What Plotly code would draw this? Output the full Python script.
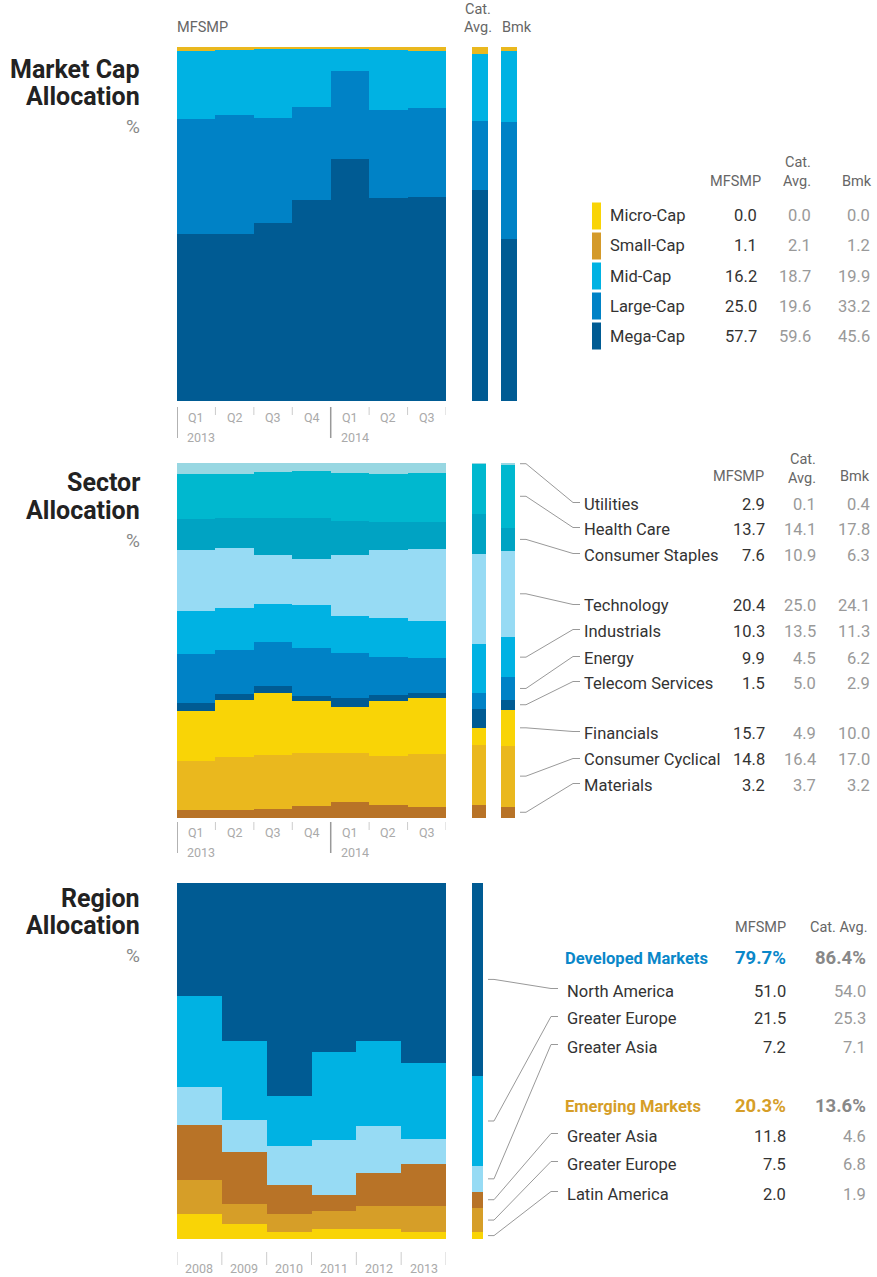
import plotly.graph_objects as go

W, H = 877, 1277
FONT = "Roboto, Noto Sans, sans-serif"


def px(x):
    return x / W


def py(y):
    return 1 - y / H


# ---------------- data ----------------
quarters = ["Q1", "Q2", "Q3", "Q4", "Q1", "Q2", "Q3"]
quarter_years = ["2013", "2014"]

# market cap, bottom to top of the stack
cap_names = ["Mega-Cap", "Large-Cap", "Mid-Cap", "Small-Cap", "Micro-Cap"]
mega_cap = [47.2, 47.2, 50.3, 56.8, 68.4, 57.3, 57.7]
large_cap = [32.5, 33.7, 29.7, 26.3, 24.9, 24.9, 25.0]
mid_cap = [19.2, 18.3, 19.4, 16.7, 6.5, 16.9, 16.2]
small_cap = [1.1, 0.8, 0.6, 0.3, 0.3, 0.8, 1.1]
micro_cap = [0.0, 0.0, 0.0, 0.0, 0.0, 0.0, 0.0]
cap_cat = [59.6, 19.6, 18.7, 2.1, 0.0]
cap_bmk = [45.6, 33.2, 19.9, 1.2, 0.0]

# sectors, bottom to top of the stack
sector_names = ["Materials", "Consumer Cyclical", "Financials", "Telecom Services", "Energy",
                "Industrials", "Technology", "Consumer Staples", "Health Care", "Utilities"]
materials = [2.2, 2.2, 2.4, 3.3, 4.4, 3.6, 3.2]
cons_cyclical = [13.8, 14.9, 15.2, 14.9, 13.8, 13.8, 14.8]
financials = [14.1, 16.1, 17.5, 14.9, 13.0, 15.5, 15.7]
telecom = [2.3, 1.7, 2.0, 1.4, 2.5, 1.7, 1.5]
energy = [13.8, 12.4, 12.4, 13.3, 12.7, 10.7, 9.9]
industrials = [12.1, 11.8, 10.7, 12.4, 10.4, 11.0, 10.3]
technology = [17.2, 16.9, 13.8, 12.7, 17.2, 19.2, 20.4]
cons_staples = [8.8, 8.6, 10.5, 11.7, 9.6, 7.9, 7.6]
health_care = [12.6, 12.3, 12.9, 13.2, 13.5, 13.5, 13.7]
utilities = [3.1, 3.1, 2.5, 2.3, 2.8, 3.1, 2.9]
sector_cat = [3.7, 16.4, 4.9, 5.0, 4.5, 13.5, 25.0, 10.9, 14.1, 0.1]
sector_bmk = [3.2, 17.0, 10.0, 2.9, 6.2, 11.3, 24.1, 6.3, 17.8, 0.4]

# regions, bottom to top of the stack
years = ["2008", "2009", "2010", "2011", "2012", "2013"]
region_names = ["Latin America", "Greater Europe", "Greater Asia",
                "Greater Asia", "Greater Europe", "North America"]
latin_america = [7.0, 4.2, 2.0, 2.8, 2.8, 2.0]
em_europe = [9.6, 5.6, 5.1, 5.1, 6.5, 7.5]
em_asia = [15.5, 14.6, 8.2, 4.5, 9.3, 11.8]
dev_asia = [10.7, 9.0, 11.0, 15.5, 13.2, 7.2]
dev_europe = [25.4, 22.1, 14.1, 24.8, 23.7, 21.5]
north_america = [31.8, 44.4, 60.0, 47.6, 44.4, 51.0]
region_cat = [1.9, 6.8, 4.6, 7.1, 25.3, 54.0]
developed_total = [79.7, 86.4]
emerging_total = [20.3, 13.6]

# ---------------- colours ----------------
DARK = "#005B93"
BLUE = "#0082C6"
CYAN = "#00B2E3"
LIGHT = "#97DBF4"
YELLOW = "#F9D406"
GOLD = "#EAB81E"
OCHRE = "#D69E28"
BROWN = "#B87327"

cap_colors = [DARK, BLUE, CYAN, GOLD, YELLOW]
cap_swatch = [DARK, BLUE, CYAN, "#D49A2A", YELLOW]
sector_colors = [BROWN, GOLD, YELLOW, DARK, BLUE, CYAN, LIGHT, "#00A3C3", "#00B8CF", "#98D7E2"]
region_colors = [YELLOW, OCHRE, BROWN, LIGHT, CYAN, DARK]

fig = go.Figure()

# axes: (x0, x1, ytop, ybottom, n bars) in pixels
axes = {
    1: (177, 446, 47, 401, 7), 2: (472, 488, 47, 401, 1), 3: (501, 517, 47, 401, 1),
    4: (177, 446, 463, 818, 7), 5: (472, 486, 463, 818, 1), 6: (501, 515, 463, 818, 1),
    7: (177, 446, 883, 1239, 6), 8: (472, 483, 883, 1239, 1),
}
for i, (x0, x1, yt, yb, n) in axes.items():
    s = "" if i == 1 else str(i)
    fig.layout["xaxis" + s] = dict(domain=[px(x0), px(x1)], range=[-0.5, n - 0.5],
                                   visible=False, anchor="y" + s, fixedrange=True)
    fig.layout["yaxis" + s] = dict(domain=[py(yb), py(yt)], range=[0, 100],
                                   visible=False, anchor="x" + s, fixedrange=True)


def add_bar(vals, color, name, ax):
    s = "" if ax == 1 else str(ax)
    fig.add_trace(go.Bar(x=list(range(len(vals))), y=vals, name=name, width=1,
                         marker=dict(color=color, line=dict(width=0)),
                         xaxis="x" + s, yaxis="y" + s, showlegend=False))


cap_series = [mega_cap, large_cap, mid_cap, small_cap, micro_cap]
for k, vals in enumerate(cap_series):
    add_bar(vals, cap_colors[k], cap_names[k], 1)
    add_bar([cap_cat[k]], cap_colors[k], cap_names[k], 2)
    add_bar([cap_bmk[k]], cap_colors[k], cap_names[k], 3)

sector_series = [materials, cons_cyclical, financials, telecom, energy,
                 industrials, technology, cons_staples, health_care, utilities]
for k, vals in enumerate(sector_series):
    add_bar(vals, sector_colors[k], sector_names[k], 4)
    add_bar([sector_cat[k]], sector_colors[k], sector_names[k], 5)
    add_bar([sector_bmk[k]], sector_colors[k], sector_names[k], 6)

region_series = [latin_america, em_europe, em_asia, dev_asia, dev_europe, north_america]
for k, vals in enumerate(region_series):
    add_bar(vals, region_colors[k], region_names[k], 7)
    add_bar([region_cat[k]], region_colors[k], region_names[k], 8)


def text(x, y, s, size=16.5, color="#333", anchor="left", bold=False):
    fig.add_annotation(x=px(x), y=py(y), xref="paper", yref="paper", text=s, showarrow=False,
                       xanchor=anchor, yanchor="middle",
                       font=dict(family=FONT, size=size, color=color, weight=700 if bold else 400))


def line_path(points, color="#999"):
    d = "M " + " L ".join(f"{px(x)},{py(y)}" for x, y in points)
    fig.add_shape(type="path", path=d, xref="paper", yref="paper",
                  line=dict(color=color, width=1))


def seg_mids(vals, ax):
    # pixel y of the middle of every segment of a single normalised bar
    yt, yb = axes[ax][2], axes[ax][3]
    tot, c, out = sum(vals), 0, []
    for v in vals:
        out.append(yb - (c + v / 2) / tot * (yb - yt))
        c += v
    return out


# section titles
for ys, title in [((70, 97, 127), "Market Cap"), ((482, 510, 540), "Sector"), ((898, 926, 955), "Region")]:
    text(142, ys[0], title, size=25, color="#222", anchor="right", bold=True)
    text(142, ys[1], "Allocation", size=25, color="#222", anchor="right", bold=True)
    text(142, ys[2], "%", size=19, color="#888", anchor="right")

# column headers over the charts
text(175, 28, "MFSMP", size=14.5, color="#666")
text(478, 10, "Cat.", size=14.5, color="#666", anchor="center")
text(478, 28, "Avg.", size=14.5, color="#666", anchor="center")
text(500, 28, "Bmk", size=14.5, color="#666")


# quarter axes
def quarter_axis(ax, top):
    xr = "x" if ax == 1 else "x" + str(ax)
    for i in range(len(quarters) + 1):
        long = i in (0, 4)
        fig.add_shape(type="line", xref=xr, yref="paper", x0=i - 0.5, x1=i - 0.5,
                      y0=py(top), y1=py(top + (31 if long else 8)),
                      line=dict(color="#999" if long else "#ccc", width=1.5 if long else 1))
    for i, q in enumerate(quarters):
        fig.add_annotation(xref=xr, yref="paper", x=i, y=py(top + 10), text=q, showarrow=False,
                           yanchor="middle", font=dict(family=FONT, size=12.5, color="#aaa"))
    for i, yr in zip((0, 4), quarter_years):
        fig.add_annotation(xref=xr, yref="paper", x=i - 0.5, y=py(top + 30), text=yr,
                           showarrow=False, xanchor="left", yanchor="middle", xshift=8,
                           font=dict(family=FONT, size=12.5, color="#aaa"))


quarter_axis(1, 407)
quarter_axis(4, 822)

# year axis for regions
for i in range(len(years) + 1):
    fig.add_shape(type="line", xref="x7", yref="paper", x0=i - 0.5, x1=i - 0.5,
                  y0=py(1252), y1=py(1265), line=dict(color="#ccc", width=1))
for i, yr in enumerate(years):
    fig.add_annotation(xref="x7", yref="paper", x=i, y=py(1268), text=yr, showarrow=False,
                       yanchor="middle", font=dict(family=FONT, size=12.5, color="#aaa"))

# ---- market cap table ----
text(763, 181, "MFSMP", size=14.5, color="#666", anchor="right")
text(813, 162, "Cat.", size=14.5, color="#666", anchor="right")
text(813, 181, "Avg.", size=14.5, color="#666", anchor="right")
text(874, 181, "Bmk", size=14.5, color="#666", anchor="right")
for r, k in enumerate(range(len(cap_names) - 1, -1, -1)):
    y = 216 + 30 * r
    fig.add_shape(type="rect", xref="paper", yref="paper", x0=px(592), x1=px(601),
                  y0=py(y + 13.5), y1=py(y - 13.5), fillcolor=cap_swatch[k], line=dict(width=0))
    text(608, y, cap_names[k])
    text(759, y, f"{cap_series[k][-1]:.1f}", anchor="right")
    text(813, y, f"{cap_cat[k]:.1f}", color="#999", anchor="right")
    text(872, y, f"{cap_bmk[k]:.1f}", color="#999", anchor="right")

# ---- sector table ----
text(766, 476, "MFSMP", size=14.5, color="#666", anchor="right")
text(818, 460, "Cat.", size=14.5, color="#666", anchor="right")
text(818, 478, "Avg.", size=14.5, color="#666", anchor="right")
text(872, 476, "Bmk", size=14.5, color="#666", anchor="right")
sector_label_y = [785, 760, 733, 683, 658, 631, 606, 555, 529, 504]
bmk_mid = seg_mids(sector_bmk, 6)
for k in range(len(sector_names)):
    y = sector_label_y[k]
    text(582, y, sector_names[k])
    text(767, y, f"{sector_series[k][-1]:.1f}", anchor="right")
    text(818, y, f"{sector_cat[k]:.1f}", color="#999", anchor="right")
    text(872, y, f"{sector_bmk[k]:.1f}", color="#999", anchor="right")
    line_path([(520, bmk_mid[k]), (526, bmk_mid[k]), (573, y - 1.5), (580, y - 1.5)])

# ---- region table ----
text(788, 927, "MFSMP", size=14.5, color="#666", anchor="right")
text(870, 927, "Cat. Avg.", size=14.5, color="#666", anchor="right")
text(563, 958, "Developed Markets", size=16.5, color="#0A87C9", bold=True)
text(788, 958, f"{developed_total[0]:.1f}%", size=18.5, color="#0A87C9", anchor="right", bold=True)
text(868, 958, f"{developed_total[1]:.1f}%", size=18.5, color="#888", anchor="right", bold=True)
text(563, 1106, "Emerging Markets", size=16.5, color=OCHRE, bold=True)
text(788, 1106, f"{emerging_total[0]:.1f}%", size=18.5, color=OCHRE, anchor="right", bold=True)
text(868, 1106, f"{emerging_total[1]:.1f}%", size=18.5, color="#888", anchor="right", bold=True)
region_label_y = [1194, 1164, 1136, 1047, 1019, 991]
cat_mid = seg_mids(region_cat, 8)
for k in range(len(region_names)):
    y = region_label_y[k]
    text(565, y, region_names[k])
    text(788, y, f"{region_series[k][-1]:.1f}", anchor="right")
    text(868, y, f"{region_cat[k]:.1f}", color="#999", anchor="right")
    line_path([(488, cat_mid[k]), (494, cat_mid[k]), (551, y - 2.5), (558, y - 2.5)])

fig.update_layout(width=W, height=H, margin=dict(l=0, r=0, t=0, b=0),
                  paper_bgcolor="white", plot_bgcolor="white",
                  barmode="stack", barnorm="percent", bargap=0, showlegend=False)

# the page body has a default margin; drop it so the figure sits at the window origin
fig.write_html("out.html", config={"displayModeBar": False},
               post_script="document.body.style.margin='0';document.body.style.overflow='hidden';")
